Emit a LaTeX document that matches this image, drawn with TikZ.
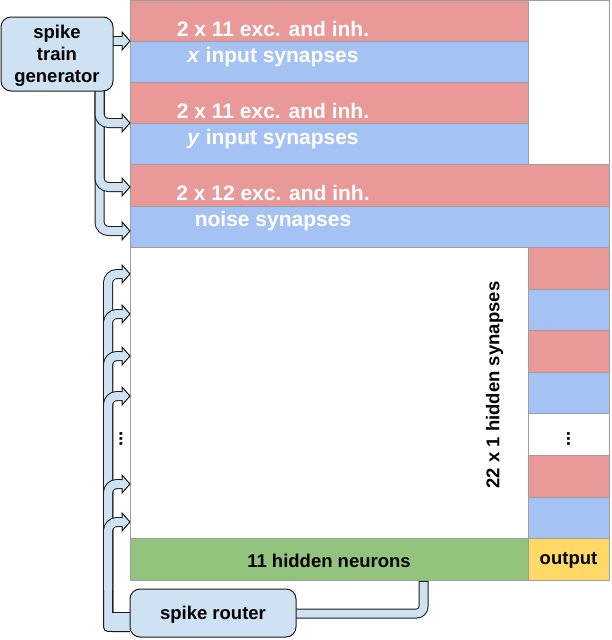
\documentclass[tikz,border=0pt]{standalone}
\usepackage{fontspec}
\setmainfont{Liberation Sans}
\definecolor{redc}{HTML}{EA9999}
\definecolor{bluec}{HTML}{A4C2F4}
\definecolor{greenc}{HTML}{93C47D}
\definecolor{yellowc}{HTML}{FFD966}
\definecolor{fc}{HTML}{CFE2F3}
\definecolor{gridc}{HTML}{9E9E9E}
\definecolor{edgec}{HTML}{1A1A1A}
\newcommand\mfont{\fontsize{18.5}{22}\selectfont\bfseries}
\newcommand\bfont{\fontsize{21}{24}\selectfont\bfseries}
\newcommand\flexhead[1]{%
  \fill[fc] (#1) -- ++(-8,-9) -- ++(0,18) -- cycle;
  \draw[edgec, line width=1pt, line join=miter] ([shift={(-8,-4)}]#1) -- ++(0,-5) -- (#1) -- ++(-8,9) -- ++(0,-5);}
\begin{document}
\begin{tikzpicture}[x=1pt,y=-1pt,
  cell/.style={draw=gridc, line width=1pt},
  pipe/.style={line width=10pt, draw=edgec, postaction={draw=fc, line width=8pt}},
  boxn/.style={draw=edgec, fill=fc, line width=1pt, rounded corners=10pt, inner sep=0pt},
  band/.style={text=white, font=\bfont, inner sep=0pt, anchor=base},
  lbl/.style={text=black, font=\mfont, inner sep=0pt, align=center}]
\useasboundingbox (0,0) rectangle (612,640);
\fill[white] (0,0) rectangle (612,640);
% grid
\filldraw[cell, fill=white] (130,0) rectangle (609,580);
\filldraw[cell, fill=redc] (130,0) rectangle (528,41);
\filldraw[cell, fill=bluec] (130,41) rectangle (528,82);
\filldraw[cell, fill=redc] (130,82) rectangle (528,123);
\filldraw[cell, fill=bluec] (130,123) rectangle (528,164);
\filldraw[cell, fill=redc] (130,164) rectangle (609,206);
\filldraw[cell, fill=bluec] (130,206) rectangle (609,247);
\filldraw[cell, fill=white] (130,247) rectangle (528,538);
\filldraw[cell, fill=redc] (528,247) rectangle (609,289);
\filldraw[cell, fill=bluec] (528,289) rectangle (609,330);
\filldraw[cell, fill=redc] (528,330) rectangle (609,372);
\filldraw[cell, fill=bluec] (528,372) rectangle (609,413);
\filldraw[cell, fill=white] (528,413) rectangle (609,455);
\filldraw[cell, fill=redc] (528,455) rectangle (609,497);
\filldraw[cell, fill=bluec] (528,497) rectangle (609,538);
\filldraw[cell, fill=greenc] (130,538) rectangle (528,580);
\filldraw[cell, fill=yellowc] (528,538) rectangle (609,580);
% band texts
\node[band] (l1a) at (273,36) {2 x 11 exc. and inh.};
\node[band] (l1b) at (273,62) {\textit{x} input synapses};
\node[band] (l2a) at (273,118) {2 x 11 exc. and inh.};
\node[band] (l2b) at (273,144) {\textit{y} input synapses};
\node[band] (l3a) at (273,200) {2 x 12 exc. and inh.};
\node[band] (l3b) at (273,226) {noise synapses};
\node[lbl] (hid) at (329,560.5) {11 hidden neurons};
\node[lbl] (out) at (568.5,560.5) {output};
\node[lbl, rotate=90] (syn) at (494.5,385) {22 x 1 hidden synapses};
\node[lbl, rotate=90] (dotsR) at (568.5,439) {...};
\node[lbl, rotate=90] (dotsL) at (121,439) {...};
% generator arrows
\coordinate (gs) at (99.5,80);
\coordinate (gs1) at (105,41);
\coordinate (g1) at (130,41);
\coordinate (g2) at (130,123);
\coordinate (g3) at (130,187);
\coordinate (g4) at (130,231);
\draw[pipe, rounded corners=9pt] (gs) |- ([shift={(-8,0)}]g4); \flexhead{g4}
\draw[pipe, rounded corners=9pt] (gs) |- ([shift={(-8,0)}]g3); \flexhead{g3}
\draw[pipe, rounded corners=9pt] (gs) |- ([shift={(-8,0)}]g2); \flexhead{g2}
\draw[pipe] (gs1) -- ([shift={(-8,0)}]g1); \flexhead{g1}
% router arrows
\coordinate (rs) at (135,622);
\coordinate (rc) at (108,622);
\coordinate (r1) at (130,274);
\coordinate (r2) at (130,314);
\coordinate (r3) at (130,356);
\coordinate (r4) at (130,396);
\coordinate (r5) at (130,484);
\coordinate (r6) at (130,522);
\foreach \t in {r1,r2,r3,r4,r5,r6}{
  \draw[pipe, rounded corners=9pt] (rs) -- (rc) |- ([shift={(-8,0)}]\t); \flexhead{\t}
}
\fill[fc] (130,612.5) -- (112.5,612.5) -- (112.5,590) -- (103.5,590) -- (103.5,621.5) .. controls (103.5,631.5) .. (113.5,631.5) -- (130,631.5) -- cycle;
\draw[edgec, line width=1pt] (112.5,590) -- (112.5,612.5) -- (130,612.5);
\draw[edgec, line width=1pt] (103.5,590) -- (103.5,621.5) .. controls (103.5,631.5) .. (113.5,631.5) -- (130,631.5);
% neurons to router pipe
\coordinate (hn) at (423.5,581);
\coordinate (hn2) at (423.5,582);
\coordinate (rr) at (290,613.5);
\draw[edgec, line width=10pt, rounded corners=7pt] (hn) |- (rr);
\draw[fc, line width=8pt, rounded corners=7pt] (hn2) |- (rr);
% boxes
\node[boxn, minimum width=112pt, minimum height=74pt] (gen) at (57,54) {};
\node[lbl] (gentext) at (57,56) {spike\\train\\generator};
\node[boxn, minimum width=166pt, minimum height=48pt] (router) at (213,613) {};
\node[lbl] (routertext) at (213,615) {spike router};
\end{tikzpicture}
\end{document}
